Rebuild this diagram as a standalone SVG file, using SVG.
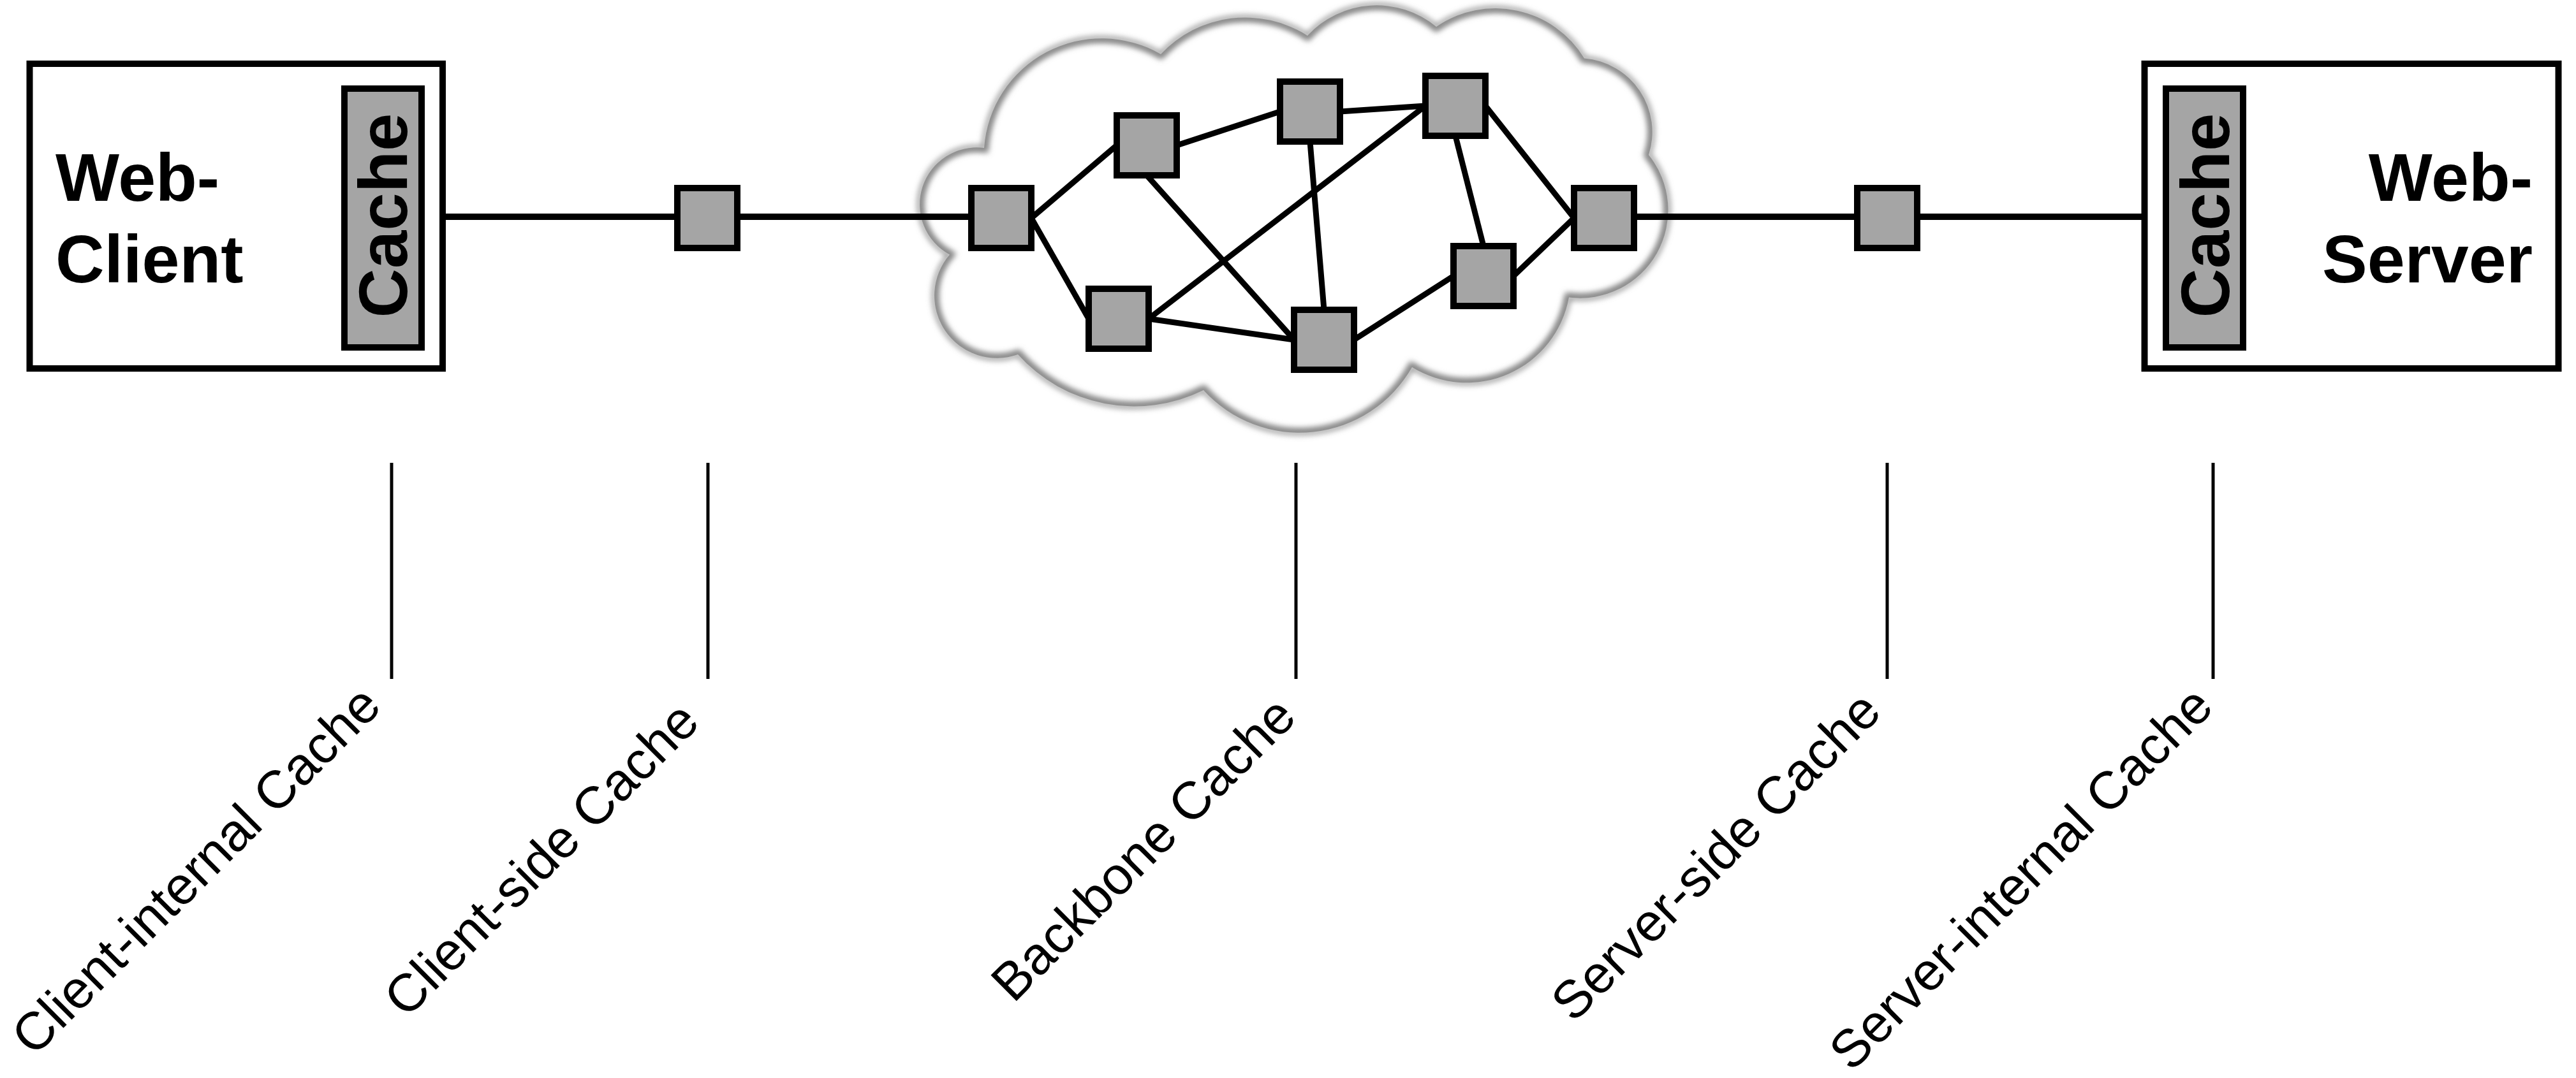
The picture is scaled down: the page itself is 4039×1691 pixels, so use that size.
<svg xmlns="http://www.w3.org/2000/svg" width="4039" height="1691" viewBox="0 0 4039 1691">
<defs>
<style>
.box{fill:#fff;stroke:#000;stroke-width:10}
.cache{fill:#a5a5a5;stroke:#000;stroke-width:10}
.node{fill:#a5a5a5;stroke:#000;stroke-width:10}
.conn{stroke:#000;stroke-width:10;fill:none}
.edge{stroke:#000;stroke-width:9;fill:none}
.tick{stroke:#000;stroke-width:5}
.big{font-family:"Liberation Sans",Arial,Helvetica,sans-serif;font-weight:bold;font-size:106px;fill:#000}
.lbl{font-family:"Liberation Sans",Arial,Helvetica,sans-serif;font-size:83px;fill:#000}
</style>
<filter id="blur" x="-5%" y="-5%" width="110%" height="110%"><feGaussianBlur stdDeviation="5"/></filter>
<clipPath id="cloudclip"><path d="M 1489 399.5 A 89.5 89.5 0 0 1 1543 232 A 185 185 0 0 1 1820 85 A 181 181 0 0 1 2050 56 A 147 147 0 0 1 2252 42 A 163 163 0 0 1 2484 91.5 A 116 116 0 0 1 2585 243 A 138 138 0 0 1 2460 466.5 A 163 163 0 0 1 2214 576 A 203 203 0 0 1 1887 612 A 245 245 0 0 1 1596 556 A 98 98 0 0 1 1489 399.5 Z"/></clipPath>
</defs>
<rect width="4039" height="1691" fill="#fff"/>
<g id="cloud">
<path filter="url(#blur)" fill="#fff" stroke="#8a8a8a" stroke-width="7" d="M 1489 399.5 A 89.5 89.5 0 0 1 1543 232 A 185 185 0 0 1 1820 85 A 181 181 0 0 1 2050 56 A 147 147 0 0 1 2252 42 A 163 163 0 0 1 2484 91.5 A 116 116 0 0 1 2585 243 A 138 138 0 0 1 2460 466.5 A 163 163 0 0 1 2214 576 A 203 203 0 0 1 1887 612 A 245 245 0 0 1 1596 556 A 98 98 0 0 1 1489 399.5 Z"/>
<g clip-path="url(#cloudclip)"><path filter="url(#blur)" fill="none" stroke="#8a8a8a" stroke-width="14" d="M 1489 399.5 A 89.5 89.5 0 0 1 1543 232 A 185 185 0 0 1 1820 85 A 181 181 0 0 1 2050 56 A 147 147 0 0 1 2252 42 A 163 163 0 0 1 2484 91.5 A 116 116 0 0 1 2585 243 A 138 138 0 0 1 2460 466.5 A 163 163 0 0 1 2214 576 A 203 203 0 0 1 1887 612 A 245 245 0 0 1 1596 556 A 98 98 0 0 1 1489 399.5 Z"/></g>
</g>
<g id="connectors">
<line class="conn" x1="694" y1="340" x2="1523" y2="340"/>
<line class="conn" x1="2562" y1="340" x2="3362" y2="340"/>
<line class="edge" x1="1617" y1="342" x2="1751" y2="228"/>
<line class="edge" x1="1617" y1="342" x2="1707" y2="500"/>
<line class="edge" x1="1845" y1="228" x2="2007" y2="175"/>
<line class="edge" x1="1798" y1="275" x2="2029" y2="533"/>
<line class="edge" x1="2101" y1="175" x2="2235" y2="166"/>
<line class="edge" x1="2054" y1="222" x2="2076" y2="486"/>
<line class="edge" x1="2235" y1="166" x2="1801" y2="500"/>
<line class="edge" x1="1801" y1="500" x2="2029" y2="533"/>
<line class="edge" x1="2282" y1="213" x2="2326" y2="386"/>
<line class="edge" x1="2329" y1="166" x2="2468" y2="342"/>
<line class="edge" x1="2373" y1="433" x2="2468" y2="342"/>
<line class="edge" x1="2123" y1="533" x2="2279" y2="433"/>
<line class="tick" x1="614" y1="726" x2="614" y2="1065"/>
<line class="tick" x1="1110" y1="726" x2="1110" y2="1065"/>
<line class="tick" x1="2032" y1="726" x2="2032" y2="1065"/>
<line class="tick" x1="2959" y1="726" x2="2959" y2="1065"/>
<line class="tick" x1="3470" y1="726" x2="3470" y2="1065"/>
</g>
<g id="web-client">
<rect class="box" x="46.5" y="100" width="647.5" height="478"/>
<text class="big" x="87" y="315">Web-</text>
<text class="big" x="87" y="443">Client</text>
<rect class="cache" x="540" y="139" width="121" height="406"/>
<text class="big" style="font-size:107px" text-anchor="middle" transform="translate(638,338) rotate(-90)">Cache</text>
</g>
<g id="web-server">
<rect class="box" x="3362.5" y="100" width="649" height="478"/>
<text class="big" x="3971" y="315" text-anchor="end">Web-</text>
<text class="big" x="3971" y="443" text-anchor="end">Server</text>
<rect class="cache" x="3396" y="139" width="121" height="406"/>
<text class="big" style="font-size:107px" text-anchor="middle" transform="translate(3495,338) rotate(-90)">Cache</text>
</g>
<g id="client-side-node"><rect class="node" x="1062" y="295" width="94" height="94"/></g>
<g id="server-side-node"><rect class="node" x="2912" y="295" width="94" height="94"/></g>
<g id="router-a"><rect class="node" x="1523" y="295" width="94" height="94"/></g>
<g id="router-b"><rect class="node" x="1751" y="181" width="94" height="94"/></g>
<g id="router-c"><rect class="node" x="2007" y="128" width="94" height="94"/></g>
<g id="router-d"><rect class="node" x="2235" y="119" width="94" height="94"/></g>
<g id="router-e"><rect class="node" x="2468" y="295" width="94" height="94"/></g>
<g id="router-f"><rect class="node" x="2279" y="386" width="94" height="94"/></g>
<g id="router-g"><rect class="node" x="2029" y="486" width="94" height="94"/></g>
<g id="router-h"><rect class="node" x="1707" y="453" width="94" height="94"/></g>
<g id="labels">
<text class="lbl" transform="translate(53,1659) rotate(-45)">Client-internal Cache</text>
<text class="lbl" transform="translate(637,1599) rotate(-45)">Client-side Cache</text>
<text class="lbl" transform="translate(1589,1575) rotate(-45)">Backbone Cache</text>
<text class="lbl" transform="translate(2467,1606) rotate(-45)">Server-side Cache</text>
<text class="lbl" transform="translate(2903,1683) rotate(-45)">Server-internal Cache</text>
</g>
</svg>
